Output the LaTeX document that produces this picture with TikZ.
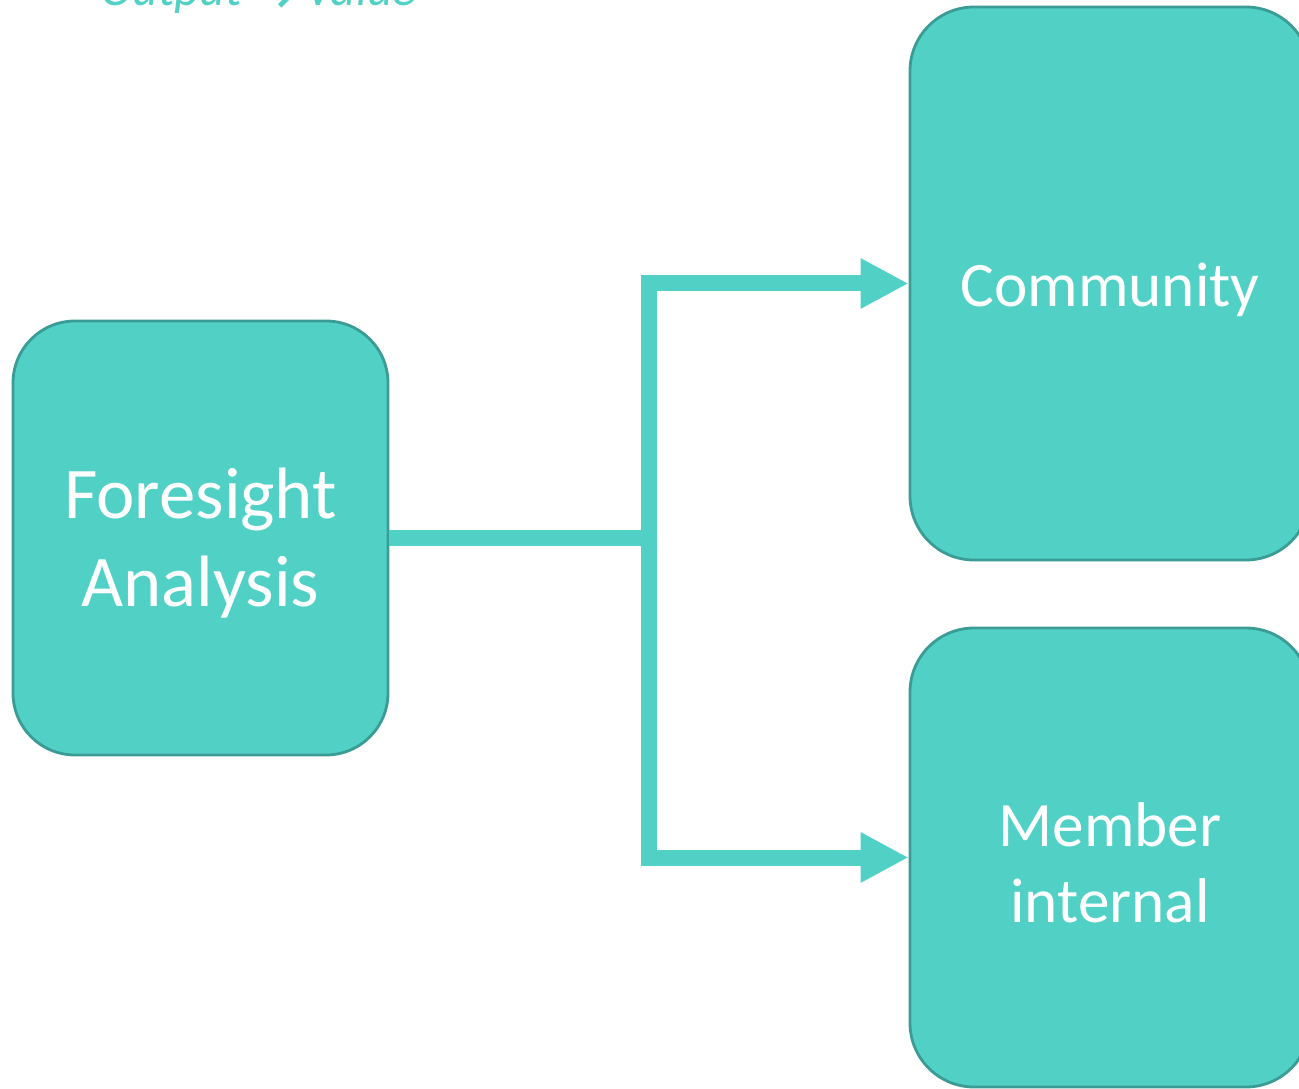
\documentclass[tikz,border=0pt]{standalone}
\usepackage{fontspec}
\setmainfont{Carlito}
\newfontfamily\arrowfont{DejaVu Sans}
\usetikzlibrary{arrows.meta}
\definecolor{tealfill}{HTML}{51D1C6}
\definecolor{tealedge}{HTML}{3A9C94}
\tikzset{
  box/.style={draw=tealedge,line width=0.8pt,fill=tealfill,rounded corners=0.64cm,minimum width=4cm},
  boxtext/.style={text=white,align=center,font=\fontsize{18}{21.5}\selectfont},
  flow/.style={tealfill,line width=0.16cm,line join=miter},
  flowarrow/.style={flow,-{Triangle[length=0.48cm,width=0.47cm]}}
}
\begin{document}
\begin{tikzpicture}
            \useasboundingbox (0,0) rectangle (12.99,-10.89);

            \node[anchor=base west,text=tealfill,font=\fontsize{14}{17}\selectfont\itshape,inner sep=0pt] (title) at (1.0,-0.06) {Output {\arrowfont\upshape\bfseries\raisebox{-0.14em}{→}} Value};

            % boxes
            \node[box,minimum width=3.75cm,minimum height=4.34cm,rounded corners=0.62cm] (fa) at (2.005,-5.38) {};
            \node[box,minimum height=5.53cm] (cm) at (11.1,-2.835) {};
            \node[box,minimum height=4.59cm] (mi) at (11.1,-8.575) {};

            \node[boxtext,font=\fontsize{20.7}{25}\selectfont] (fatext) at ([yshift=-0.05cm]fa.center) {Foresight\\Analysis};
            \node[boxtext] (cmtext) at ([yshift=-0.06cm]cm.center) {Community};
            \node[boxtext] (mitext) at ([yshift=-0.05cm]mi.center) {Member\\internal};

            % connectors
            \coordinate (split) at (6.49,-5.38);
            \draw[flow] (fa.east) -- (split);
            \draw[flowarrow] (split) |- (cm.west);
            \draw[flowarrow] (split) |- (mi.west);
\end{tikzpicture}
\end{document}
